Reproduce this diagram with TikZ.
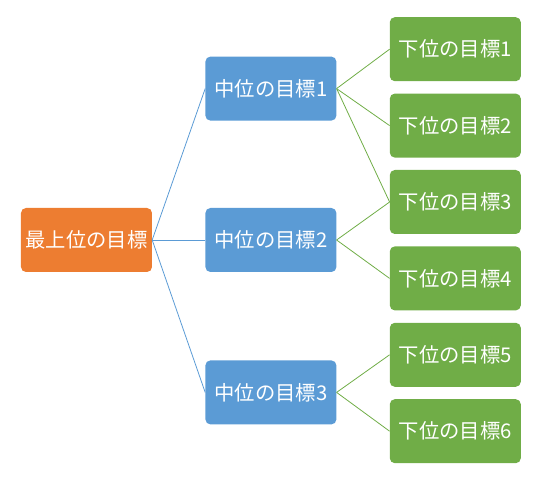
\documentclass[tikz,border=0pt]{standalone}
\usepackage{fontspec}
\setmainfont{Noto Sans CJK JP}
\usetikzlibrary{positioning}
\definecolor{goalorange}{RGB}{237,125,49}
\definecolor{goalblue}{RGB}{91,155,213}
\definecolor{goalgreen}{RGB}{112,173,71}

\begin{document}
\begin{tikzpicture}[
    goal/.style={rectangle, rounded corners=5pt, minimum width=131pt, minimum height=64pt, text=white, inner sep=0pt, font=\fontsize{20.3}{24}\selectfont},
    topgoal/.style={goal, fill=goalorange},
    midgoal/.style={goal, fill=goalblue},
    subgoal/.style={goal, fill=goalgreen},
    bluelink/.style={draw=goalblue, line width=0.8pt},
    greenlink/.style={draw=goalgreen, line width=0.8pt}
]
\useasboundingbox (-86.5pt,-237pt) rectangle (471.5pt,240pt);
\node[topgoal] (top) at (0,0) {最上位の目標};
\node[midgoal, right=53pt of top] (mid2) {中位の目標2};
\node[midgoal, above=87pt of mid2] (mid1) {中位の目標1};
\node[midgoal, below=88pt of mid2] (mid3) {中位の目標3};
\node[subgoal, right=53pt of mid2, yshift=38pt] (sub3) {下位の目標3};
\node[subgoal, above=12pt of sub3] (sub2) {下位の目標2};
\node[subgoal, above=12pt of sub2] (sub1) {下位の目標1};
\node[subgoal, below=12pt of sub3] (sub4) {下位の目標4};
\node[subgoal, below=12pt of sub4] (sub5) {下位の目標5};
\node[subgoal, below=12pt of sub5] (sub6) {下位の目標6};
\draw[bluelink] (top.east) -- (mid1.west);
\draw[bluelink] (top.east) -- (mid2.west);
\draw[bluelink] (top.east) -- (mid3.west);
\draw[greenlink] (mid1.east) -- (sub1.west);
\draw[greenlink] (mid1.east) -- (sub2.west);
\draw[greenlink] (mid1.east) -- (sub3.west);
\draw[greenlink] (mid2.east) -- (sub3.west);
\draw[greenlink] (mid2.east) -- (sub4.west);
\draw[greenlink] (mid3.east) -- (sub5.west);
\draw[greenlink] (mid3.east) -- (sub6.west);
\end{tikzpicture}
\end{document}
